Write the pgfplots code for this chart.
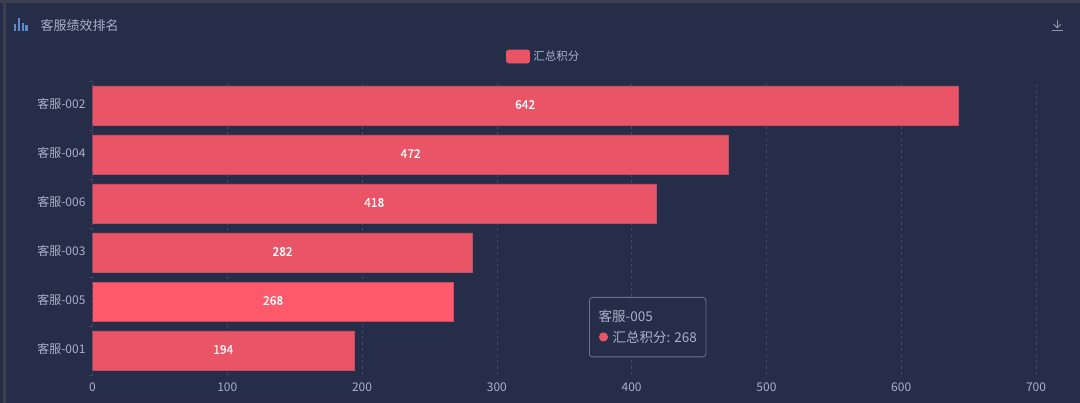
\documentclass[border=0pt]{standalone}
\usepackage{pgfplots}
\pgfplotsset{compat=1.18}
\usepackage{fontspec}
\setmainfont{Noto Sans CJK SC}
\definecolor{bg}{HTML}{252D49}
\definecolor{barc}{HTML}{E95566}
\definecolor{barh}{HTML}{FF5A6C}
\definecolor{edgec}{HTML}{C44D64}
\definecolor{txt}{HTML}{A9B2C8}
\definecolor{gridc}{HTML}{3F4762}
\definecolor{strip}{HTML}{3C3F4E}
\definecolor{tipb}{HTML}{6B7392}
\definecolor{iconb}{HTML}{5B8AD0}
\begin{document}
\begin{tikzpicture}[x=1pt,y=1pt]
\fill[bg] (0,0) rectangle (1080,403);
\fill[strip] (0,400) rectangle (1080,403);
\fill[strip] (3,0) rectangle (5.5,403);
% title
\node[anchor=west,text=txt,font=\fontsize{13}{15}\selectfont,inner sep=0pt] at (40.5,377.5) {客服绩效排名};
\foreach \xx/\hh in {15/6.5,18.7/12.5,22.7/8,26.3/5.5}{\fill[iconb] (\xx-1.2,372.3) rectangle (\xx+1.2,372.3+\hh);}
% download icon
\draw[txt!85!black,line width=1pt] (1052,372.5) -- (1062.5,372.5);
\draw[txt!85!black,line width=1pt] (1057.3,383) -- (1057.3,375.5);
\draw[txt!85!black,line width=0.9pt] (1053.8,378.8) -- (1057.3,375.2) -- (1060.8,378.8);
\begin{axis}[
  at={(92.5pt,28pt)},anchor=south west,
  scale only axis,width=943.5pt,height=294pt,
  xmin=0,xmax=700,ymin=-0.5,ymax=5.5,
  axis line style={draw=none},
  axis x line*=bottom,axis y line*=left,
  xtick={0,100,...,700},
  ytick={0,1,2,3,4,5},
  yticklabels={客服-001,客服-005,客服-003,客服-006,客服-004,客服-002},
  extra y ticks={-0.5,0.5,1.5,2.5,3.5,4.5,5.5},
  extra y tick labels={},
  extra y tick style={major tick length=3pt,tick style={draw=gridc},grid=none},
  major tick length=0pt,
  tick align=outside,
  xticklabel style={text=txt,font=\fontsize{12}{14}\selectfont,yshift=-4.5pt,/pgf/number format/assume math mode=true},
  yticklabel style={text=txt,font=\fontsize{12}{14}\selectfont,xshift=-3.5pt,yshift=1.5pt},
  xmajorgrids,
  grid style={gridc,dashed,line width=0.7pt,dash pattern=on 3pt off 3pt},
  axis on top=false,
  legend style={at={(rel axis cs:0.5,1)},anchor=south,yshift=16.7pt,xshift=-20.5pt,draw=none,fill=none,text=txt,font=\fontsize{11.5}{13}\selectfont,inner sep=0pt},
  legend cell align=left,
  legend image code/.code={\fill[barc,rounded corners=2pt] (0pt,-6.5pt) rectangle (23pt,6.5pt);},
]
\addplot[xbar,bar shift=0pt,bar width=39pt,fill=barc,draw=edgec,line width=0.6pt] coordinates {(194,0) (282,2) (418,3) (472,4) (642,5)};
\addlegendentry{\hspace{1.5pt}汇总积分}
\addplot[xbar,bar shift=0pt,bar width=39pt,fill=barh,draw=edgec,line width=0.6pt,forget plot] coordinates {(268,1)};
\addplot[draw=none,mark=none,forget plot,only marks,mark size=0pt,
  nodes near coords,point meta=explicit symbolic,
  every node near coord/.style={anchor=center,yshift=1pt,text=white,font=\fontsize{12}{14}\selectfont\addfontfeature{FakeBold=0.5}}]
  table[x=x,y=y,meta=v] {
x y v
97 0 194
134 1 268
141 2 282
209 3 418
236 4 472
321 5 642
};
\end{axis}
% tooltip
\node[draw=tipb,fill=bg,rounded corners=3pt,line width=0.8pt,minimum width=116.5pt,minimum height=59.5pt,anchor=north west,inner sep=0pt] at (589,106) {};
\node[anchor=west,text=txt,font=\fontsize{13.5}{15}\selectfont,inner sep=0pt] at (598.5,86.5) {客服-005};
\fill[barc] (603.5,66) circle (4.6pt);
\node[anchor=west,text=txt,font=\fontsize{13.5}{15}\selectfont,inner sep=0pt] at (612.5,66) {汇总积分: 268};
\end{tikzpicture}
\end{document}
